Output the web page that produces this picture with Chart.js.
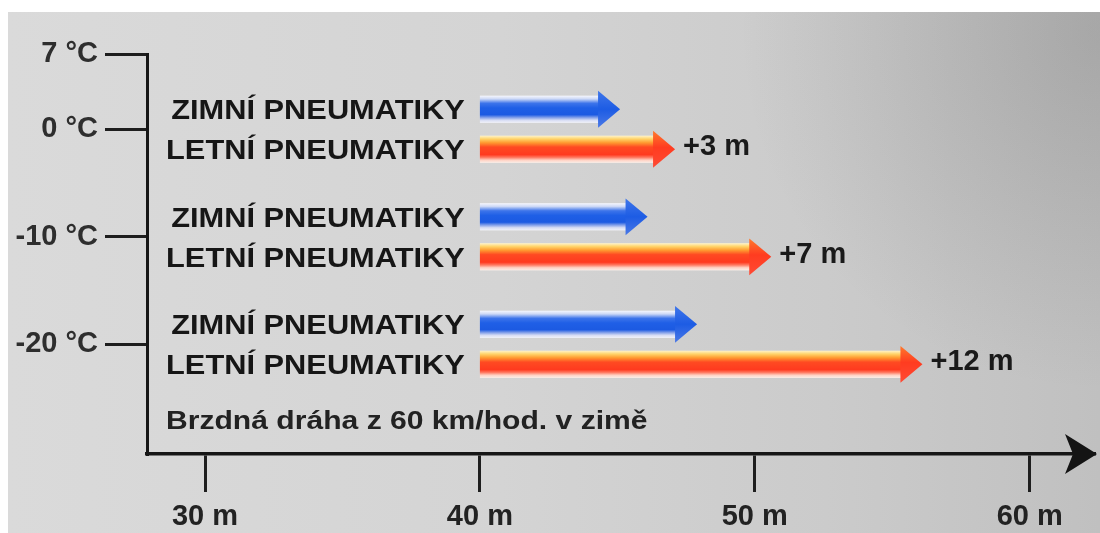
<!DOCTYPE html>
<html>
<head>
<meta charset="utf-8">
<script src="https://cdn.jsdelivr.net/npm/chart.js@4.4.1/dist/chart.umd.min.js"></script>
<style>
  html, body { margin: 0; padding: 0; background: #ffffff; overflow: hidden; }
  #wrap { width: 1100px; height: 533px; position: relative; }
  canvas { display: block; }
</style>
</head>
<body>
<div id="wrap"><canvas id="c" width="1100" height="533"></canvas></div>
<script>
// ---------- data ----------
const temperatureTicks = [7, 0, -10, -20];
const temperatureLabels = ['7 °C', '0 °C', '-10 °C', '-20 °C'];
const groupTemperatures = [0, -10, -20];
const seriesNames = ['ZIMNÍ PNEUMATIKY', 'LETNÍ PNEUMATIKY'];
const brakingStart = [40, 40, 40];
const winterTyreEnd = [45.1, 46.1, 47.9];
const summerTyreEnd = [47.1, 50.6, 56.1];
const extraDistanceLabels = ['+3 m', '+7 m', '+12 m'];
const distanceTicks = [30, 40, 50, 60];
const distanceTickLabels = ['30 m', '40 m', '50 m', '60 m'];
const axisTitle = 'Brzdná dráha z 60 km/hod. v zimě';

// ---------- helpers ----------
const FONT = "'Liberation Sans', Arial, Helvetica, sans-serif";

function drawText(ctx, text, x, y, font, sx, align, color) {
  ctx.save();
  ctx.font = font;
  ctx.fillStyle = color;
  ctx.textAlign = align;
  ctx.textBaseline = 'middle';
  ctx.translate(x, y);
  ctx.scale(sx, 1);
  ctx.fillText(text, 0, 0);
  ctx.restore();
}

const arrowStyles = {
  winter: {
    body: [[0, '#f6f7fd'], [0.12, '#cdd9f6'], [0.28, '#3d74ea'], [0.45, '#1f5fe6'], [0.7, '#1c5ae2'], [0.8, '#7f9de9'], [0.9, '#d6dcf4'], [1, '#f2f3f9']],
    head: [[0, '#3f76ea'], [0.5, '#1d5ce4'], [1, '#4a78e6']]
  },
  summer: {
    body: [[0, '#fff4cc'], [0.12, '#ffd46a'], [0.26, '#ff9a30'], [0.42, '#ff4a22'], [0.7, '#ff3a1f'], [0.8, '#ff7a62'], [0.9, '#ffd2c4'], [1, '#fbefe9']],
    head: [[0, '#ff7a2c'], [0.45, '#ff3c20'], [1, '#ff4a34']]
  }
};

function drawArrow(ctx, x0, x1, yc, h, kind) {
  const st = arrowStyles[kind];
  const hh = h / 2;
  const hb = h * 0.37;
  const headLen = 22;
  const xb = x1 - headLen;
  ctx.save();
  const g = ctx.createLinearGradient(0, yc - hb, 0, yc + hb);
  st.body.forEach(s => g.addColorStop(s[0], s[1]));
  ctx.fillStyle = g;
  ctx.fillRect(x0, yc - hb, xb - x0 + 1, 2 * hb);
  const gh = ctx.createLinearGradient(0, yc - hh, 0, yc + hh);
  st.head.forEach(s => gh.addColorStop(s[0], s[1]));
  ctx.fillStyle = gh;
  ctx.beginPath();
  ctx.moveTo(xb, yc - hh);
  ctx.lineTo(x1, yc);
  ctx.lineTo(xb, yc + hh);
  ctx.closePath();
  ctx.fill();
  ctx.restore();
}

// ---------- plugins ----------
const backgroundPlugin = {
  id: 'paperBackground',
  beforeDraw(chart) {
    const ctx = chart.ctx;
    const W = chart.width, H = chart.height;
    ctx.save();
    ctx.fillStyle = '#ffffff';
    ctx.fillRect(0, 0, W, H);
    const g = ctx.createLinearGradient(8, 0, W, 0);
    g.addColorStop(0, '#dadada');
    g.addColorStop(0.45, '#d4d4d4');
    g.addColorStop(0.75, '#cbcbcb');
    g.addColorStop(1, '#c0c0c0');
    ctx.fillStyle = g;
    ctx.fillRect(8, 12, W - 8, H - 12);
    const r = ctx.createRadialGradient(W, 30, 10, W, 30, 360);
    r.addColorStop(0, 'rgba(70,70,70,0.2)');
    r.addColorStop(1, 'rgba(70,70,70,0)');
    ctx.fillStyle = r;
    ctx.fillRect(8, 12, W - 8, H - 12);
    ctx.restore();
  }
};

const arrowPlugin = {
  id: 'arrowBars',
  afterDatasetsDraw(chart) {
    const ctx = chart.ctx;
    chart.data.datasets.forEach((ds, di) => {
      const meta = chart.getDatasetMeta(di);
      meta.data.forEach((el, i) => {
        const p = el.getProps(['x', 'y', 'base', 'height'], true);
        drawArrow(ctx, p.base, p.x, p.y, p.height * 0.92, ds.kind);
        drawText(ctx, ds.label, p.base - 15, p.y + 2, 'bold 28px ' + FONT, 1.1, 'right', '#161616');
        if (ds.kind === 'summer') {
          drawText(ctx, extraDistanceLabels[i], p.x + 8, p.y - 2, 'bold 29px ' + FONT, 1.0, 'left', '#1a1a1a');
        }
      });
    });
  },
  afterDraw(chart) {
    const ctx = chart.ctx;
    const a = chart.chartArea;
    drawText(ctx, axisTitle, a.left + 19, a.bottom - 32, 'bold 25.5px ' + FONT, 1.18, 'left', '#222222');
    ctx.save();
    ctx.fillStyle = '#141414';
    ctx.beginPath();
    const tip = a.right + 3;
    ctx.moveTo(tip, a.bottom);
    ctx.lineTo(tip - 32, a.bottom - 20);
    ctx.lineTo(tip - 24, a.bottom);
    ctx.lineTo(tip - 32, a.bottom + 20);
    ctx.closePath();
    ctx.fill();
    ctx.restore();
  }
};

// ---------- chart ----------
const toData = ends => groupTemperatures.map((t, i) => ({ x: [brakingStart[i], ends[i]], y: t }));

new Chart(document.getElementById('c'), {
  type: 'bar',
  data: {
    datasets: [
      { label: seriesNames[0], kind: 'winter', data: toData(winterTyreEnd),
        backgroundColor: 'rgba(0,0,0,0)', borderWidth: 0, barThickness: 40 },
      { label: seriesNames[1], kind: 'summer', data: toData(summerTyreEnd),
        backgroundColor: 'rgba(0,0,0,0)', borderWidth: 0, barThickness: 40 }
    ]
  },
  options: {
    indexAxis: 'y',
    responsive: false,
    animation: false,
    devicePixelRatio: 1,
    layout: { padding: { top: 54, right: 6, left: 0, bottom: 0 } },
    plugins: { legend: { display: false }, tooltip: { enabled: false } },
    scales: {
      x: {
        type: 'linear',
        position: 'bottom',
        offset: false,
        min: 27.89,
        max: 62.34,
        afterBuildTicks: s => { s.ticks = distanceTicks.map(v => ({ value: v })); },
        afterFit: s => { s.height = 79; },
        grid: { display: true, offset: false, drawOnChartArea: false, drawTicks: true, tickLength: 38, lineWidth: 3, color: '#1e1e1e' },
        border: { display: true, width: 3.5, color: '#161616' },
        ticks: {
          autoSkip: false, maxRotation: 0, padding: 8, color: '#222222',
          font: { family: FONT, size: 29, weight: 'bold' },
          callback: v => distanceTickLabels[distanceTicks.indexOf(v)]
        }
      },
      y: {
        type: 'linear',
        position: 'left',
        offset: false,
        min: -30.2,
        max: 7,
        afterBuildTicks: s => { s.ticks = temperatureTicks.map(v => ({ value: v })); },
        afterFit: s => { s.width = 147; },
        grid: { display: true, offset: false, drawOnChartArea: false, drawTicks: true, tickLength: 42, lineWidth: 3, color: '#1e1e1e' },
        border: { display: true, width: 3, color: '#161616' },
        ticks: {
          autoSkip: false, padding: 7, color: '#2e2e2e',
          font: { family: FONT, size: 29, weight: 'bold' },
          callback: v => temperatureLabels[temperatureTicks.indexOf(v)]
        }
      }
    }
  },
  plugins: [backgroundPlugin, arrowPlugin]
});
</script>
</body>
</html>
